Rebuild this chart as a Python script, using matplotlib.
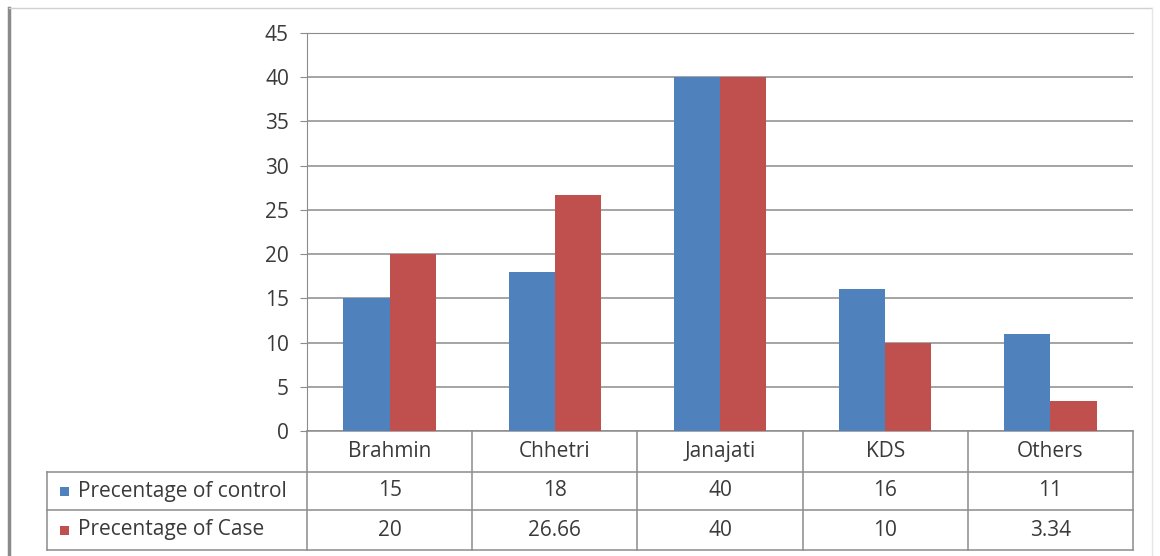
# Caste-wise distribution of controls and cases, column chart with data table
import numpy as np
import matplotlib.pyplot as plt
from matplotlib.lines import Line2D
from matplotlib.patches import Rectangle
import matplotlib.transforms as mtransforms

groups = ['Brahmin', 'Chhetri', 'Janajati', 'KDS', 'Others']
control = [15, 18, 40, 16, 11]
case = [20, 26.66, 40, 10, 3.34]
control_txt = ['15', '18', '40', '16', '11']
case_txt = ['20', '26.66', '40', '10', '3.34']
series_names = ['Precentage of control', 'Precentage of Case']

blue = '#4F81BD'
red = '#C0504D'
grid_c = '#8c8c8c'
txt_c = '#3a3a3a'
fs = 15
plt.rcParams['font.family'] = ['Open Sans', 'DejaVu Sans']

fig = plt.figure(figsize=(11.6, 5.56), dpi=100)
W, H = 1160, 556
ax = fig.add_axes([307 / W, 1 - 431 / H, (1133 - 307) / W, (431 - 33) / H])

x = np.arange(len(groups))
bw = 0.28
ax.bar(x - bw / 2, control, bw, color=blue, zorder=3)
ax.bar(x + bw / 2, case, bw, color=red, zorder=3)

ax.set_xlim(-0.5, len(groups) - 0.5)
ax.set_ylim(0, 45)
ax.set_yticks(range(0, 46, 5))
ax.yaxis.grid(True, color=grid_c, lw=1.1, zorder=0)
ax.set_xticks([])
for s in ['right', 'bottom']:
    ax.spines[s].set_visible(False)
ax.spines['top'].set_color(grid_c)
ax.spines['left'].set_color(grid_c)
ax.tick_params(axis='y', length=5, color=grid_c, labelsize=fs,
               labelcolor=txt_c, pad=8)

# data table under the plot: x in data units, y in axes fraction
tr = mtransforms.blended_transform_factory(ax.transData, ax.transAxes)
ph = (431 - 33)
rows_px = [431, 472, 510, 550]
rows = [(431 - r) / ph for r in rows_px]
left_tbl = ax.transData.inverted().transform(fig.transFigure.transform((47 / W, 0)))[0]

def hline(x0, x1, y):
    ax.add_line(Line2D([x0, x1], [y, y], transform=tr, color=grid_c, lw=1.1, clip_on=False))

def vline(xx, y0, y1):
    ax.add_line(Line2D([xx, xx], [y0, y1], transform=tr, color=grid_c, lw=1.1, clip_on=False))

hline(-0.5, 4.5, rows[0])
for r in rows[1:]:
    hline(left_tbl, 4.5, r)
for b in np.arange(-0.5, 5.0, 1.0):
    vline(b, rows[0], rows[3])
vline(left_tbl, rows[1], rows[3])

for i, g in enumerate(groups):
    ax.text(i, (rows[0] + rows[1]) / 2, g, transform=tr, ha='center', va='center',
            fontsize=fs, color=txt_c)
    ax.text(i, (rows[1] + rows[2]) / 2, control_txt[i], transform=tr, ha='center',
            va='center', fontsize=fs, color=txt_c)
    ax.text(i, (rows[2] + rows[3]) / 2, case_txt[i], transform=tr, ha='center',
            va='center', fontsize=fs, color=txt_c)

for k, (name, col) in enumerate(zip(series_names, [blue, red])):
    yc = (rows[1 + k] + rows[2 + k]) / 2
    fx = 60 / W
    fy = ax.transAxes.transform((0, yc))
    fy = fig.transFigure.inverted().transform(fy)[1]
    fig.add_artist(Rectangle((fx, fy - 4.5 / H), 9 / W, 9 / H, transform=fig.transFigure,
                             color=col, lw=0))
    fig.text(78 / W, fy, name, ha='left', va='center', fontsize=fs, color=txt_c)

# outer frame of the chart area
fig.add_artist(Line2D([9 / W, 9 / W], [0, 1 - 8 / H], transform=fig.transFigure,
                      color='#8a8a8a', lw=2.5))
fig.add_artist(Line2D([9 / W, 1152 / W], [1 - 8 / H, 1 - 8 / H], transform=fig.transFigure,
                      color='#d0d0d0', lw=1))
fig.add_artist(Line2D([1152 / W, 1152 / W], [0, 1 - 8 / H], transform=fig.transFigure,
                      color='#e6e6e6', lw=1))

fig.savefig('out.png', dpi=100)
